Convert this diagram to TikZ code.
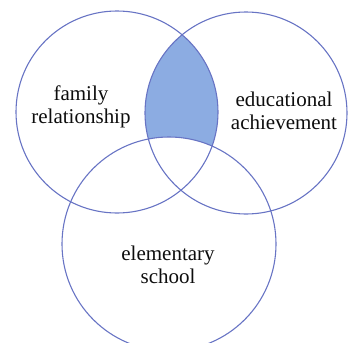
\documentclass[tikz,border=0pt]{standalone}
\usepackage{fontspec}
\setmainfont{Liberation Serif}
\newfontfamily\labfont{Liberation Serif}
\usepackage{tikz}
\usetikzlibrary{positioning}

\definecolor{ringblue}{RGB}{104,116,196}
\definecolor{lensblue}{RGB}{140,172,226}

\begin{document}
\begin{tikzpicture}[
  x=1pt, y=-1pt,
  ring/.style={draw=ringblue, line width=1.1pt},
  lab/.style={align=center, font=\labfont\fontsize{21}{22.5}\selectfont, text=black!95, inner sep=0pt}
]
\useasboundingbox (0,0) rectangle (349,343);
\clip (0,0) rectangle (349,343);

% centres of the three sets
\coordinate (fam)  at (117,112);
\coordinate (edu)  at (246,113);
\coordinate (elem) at (169,244);

% shaded part: family and education, outside elementary school
\begin{scope}
  \clip (fam) circle (101);
  \clip (edu) circle (101);
  \fill[lensblue, even odd rule] (elem) circle (107) (0,0) rectangle (349,343);
\end{scope}

\draw[ring] (fam)  circle (101);
\draw[ring] (edu)  circle (101);
\draw[ring] (elem) circle (107);

\node[lab] (famtext)  at (81,107)  {family\\relationship};
\node[lab] (edutext)  at (284,111) {educational\\achievement};
\node[lab] (elemtext) at (168,265) {elementary\\school};
\end{tikzpicture}
\end{document}
